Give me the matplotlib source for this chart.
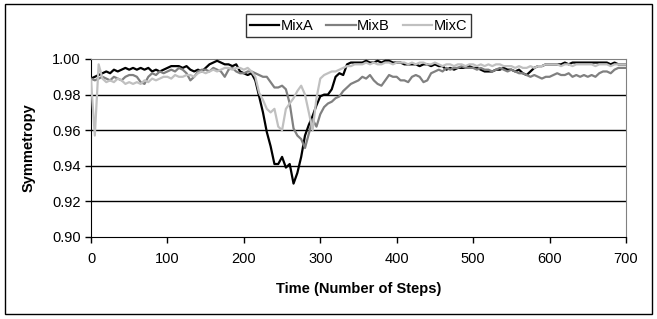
import numpy as np
import matplotlib
matplotlib.use('Agg')
import matplotlib.pyplot as plt
from matplotlib.patches import Rectangle

plt.rcParams['font.family'] = ['Liberation Sans', 'DejaVu Sans']

# time steps (every 5 steps)
steps = np.arange(0, 701, 5)

mix_a = [
    0.989, 0.990, 0.991, 0.992, 0.993, 0.992, 0.994, 0.993, 0.994, 0.995,
    0.994, 0.995, 0.994, 0.995, 0.994, 0.995, 0.993, 0.994, 0.993, 0.994,
    0.995, 0.996, 0.996, 0.996, 0.995, 0.996, 0.994, 0.993, 0.994, 0.993,
    0.995, 0.997, 0.998, 0.999, 0.998, 0.997, 0.997, 0.996, 0.997, 0.993,
    0.992, 0.991, 0.992, 0.988, 0.979, 0.970, 0.959, 0.951, 0.941, 0.941,
    0.945, 0.939, 0.941, 0.930, 0.936, 0.945, 0.957, 0.963, 0.968, 0.974,
    0.979, 0.980, 0.980, 0.983, 0.990, 0.992, 0.991, 0.997, 0.998, 0.998,
    0.998, 0.998, 0.999, 0.998, 0.998, 0.999, 0.998, 0.999, 0.999, 0.998,
    0.998, 0.998, 0.997, 0.997, 0.997, 0.997, 0.996, 0.997, 0.997, 0.996,
    0.997, 0.996, 0.996, 0.994, 0.995, 0.994, 0.995, 0.995, 0.995, 0.996,
    0.995, 0.995, 0.994, 0.993, 0.993, 0.993, 0.994, 0.994, 0.995, 0.994,
    0.994, 0.993, 0.994, 0.992, 0.991, 0.993, 0.995, 0.996, 0.996, 0.997,
    0.997, 0.997, 0.997, 0.997, 0.998, 0.997, 0.998, 0.998, 0.998, 0.998,
    0.998, 0.998, 0.998, 0.998, 0.998, 0.998, 0.997, 0.998, 0.997, 0.997,
    0.997,
]

mix_b = [
    0.989, 0.988, 0.989, 0.990, 0.989, 0.988, 0.990, 0.989, 0.988, 0.990,
    0.991, 0.991, 0.990, 0.987, 0.986, 0.990, 0.992, 0.991, 0.993, 0.992,
    0.993, 0.994, 0.993, 0.995, 0.994, 0.992, 0.988, 0.990, 0.993, 0.994,
    0.994, 0.993, 0.995, 0.994, 0.993, 0.990, 0.994, 0.995, 0.993, 0.992,
    0.992, 0.993, 0.993, 0.992, 0.991, 0.990, 0.990, 0.987, 0.984, 0.984,
    0.985, 0.983, 0.975, 0.961, 0.957, 0.955, 0.950, 0.958, 0.966, 0.962,
    0.969, 0.973, 0.975, 0.976, 0.978, 0.979, 0.982, 0.984, 0.986, 0.987,
    0.988, 0.990, 0.989, 0.991, 0.988, 0.986, 0.985, 0.988, 0.991, 0.990,
    0.990, 0.988, 0.988, 0.987, 0.990, 0.991, 0.990, 0.987, 0.988, 0.992,
    0.993, 0.994, 0.993, 0.995, 0.994, 0.995, 0.995, 0.996, 0.995, 0.995,
    0.995, 0.994, 0.995, 0.994, 0.994, 0.993, 0.994, 0.995, 0.994, 0.993,
    0.994, 0.993, 0.992, 0.992, 0.991, 0.990, 0.991, 0.990, 0.989, 0.990,
    0.990, 0.991, 0.992, 0.991, 0.991, 0.992, 0.990, 0.991, 0.990, 0.991,
    0.990, 0.991, 0.990, 0.992, 0.993, 0.993, 0.992, 0.994, 0.995, 0.995,
    0.995,
]

mix_c = [
    0.988, 0.957, 0.997, 0.989, 0.987, 0.988, 0.987, 0.989, 0.988, 0.986,
    0.987, 0.986, 0.987, 0.986, 0.988, 0.987, 0.989, 0.988, 0.989, 0.990,
    0.990, 0.989, 0.991, 0.990, 0.990, 0.991, 0.991, 0.990, 0.992, 0.993,
    0.992, 0.993, 0.994, 0.993, 0.994, 0.995, 0.995, 0.994, 0.995, 0.995,
    0.994, 0.995, 0.993, 0.990, 0.981, 0.977, 0.972, 0.970, 0.972, 0.962,
    0.960, 0.972, 0.975, 0.978, 0.982, 0.985, 0.980, 0.970, 0.960, 0.978,
    0.989, 0.991, 0.992, 0.993, 0.993, 0.994, 0.995, 0.996, 0.996, 0.997,
    0.997, 0.997, 0.998, 0.997, 0.998, 0.997, 0.997, 0.998, 0.998, 0.997,
    0.998, 0.998, 0.998, 0.997, 0.998, 0.997, 0.998, 0.998, 0.997, 0.997,
    0.998, 0.997, 0.996, 0.997, 0.997, 0.996, 0.997, 0.997, 0.996, 0.997,
    0.997, 0.996, 0.997, 0.996, 0.997, 0.996, 0.997, 0.997, 0.996, 0.996,
    0.996, 0.995, 0.996, 0.995, 0.995, 0.996, 0.995, 0.996, 0.996, 0.997,
    0.997, 0.997, 0.997, 0.996, 0.997, 0.997, 0.996, 0.997, 0.997, 0.997,
    0.997, 0.997, 0.996, 0.997, 0.997, 0.997, 0.996, 0.997, 0.997, 0.997,
    0.997,
]

series_names = ['MixA', 'MixB', 'MixC']
series_colors = ['black', '#808080', '#c0c0c0']

fig = plt.figure(figsize=(6.57, 3.19), dpi=100)
ax = fig.add_axes([91/657, 1 - 237/319, 535/657, 178/319])

# horizontal grid lines like the Excel original
for yv in [0.92, 0.94, 0.96, 0.98]:
    ax.axhline(yv, color='black', linewidth=1.0, zorder=1)

for vals, name, col in zip([mix_a, mix_b, mix_c], series_names, series_colors):
    ax.plot(steps, vals, color=col, linewidth=1.6, label=name, zorder=3)

ax.set_xlim(0, 700)
ax.set_ylim(0.90, 1.00)
ax.set_xticks(np.arange(0, 701, 100))
ax.set_yticks(np.arange(0.90, 1.001, 0.02))
ax.set_yticklabels(['%.2f' % v for v in np.arange(0.90, 1.001, 0.02)])
ax.tick_params(direction='out', length=4, width=1, labelsize=10.5, colors='black')
ax.tick_params(axis='x', pad=7)

ax.spines['left'].set_color('black')
ax.spines['bottom'].set_color('black')
ax.spines['top'].set_color('#808080')
ax.spines['right'].set_color('#808080')

ax.set_xlabel('Time (Number of Steps)', fontsize=10.5, fontweight='bold', labelpad=11)
ax.set_ylabel('Symmetropy', fontsize=10.5, fontweight='bold', labelpad=12)

leg = fig.legend(loc='upper center', bbox_to_anchor=(358.5/657, 1 - 7/319), ncol=3,
                 fontsize=10.5, frameon=True, fancybox=False, edgecolor='black',
                 handlelength=2.0, columnspacing=0.9, handletextpad=0.1,
                 borderpad=0.3)
leg.get_frame().set_linewidth(1.0)

# outer chart border
fig.patches.append(Rectangle((5/657, 1 - 314/319), 647/657, 310/319,
                             transform=fig.transFigure, fill=False,
                             edgecolor='black', linewidth=1.0))

plt.savefig('out.png', dpi=100)
